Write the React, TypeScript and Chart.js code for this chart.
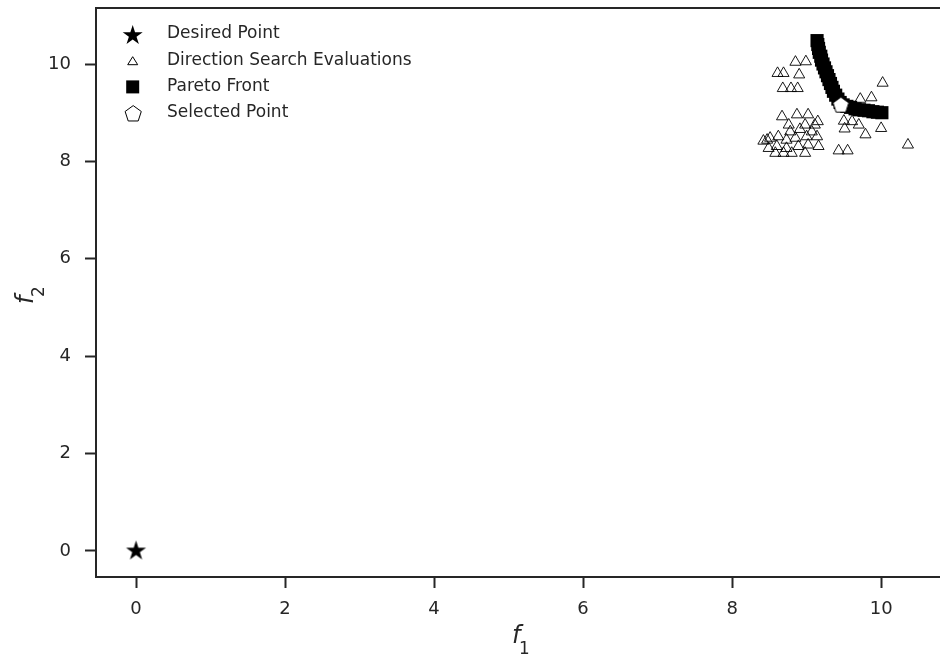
import React, { useEffect, useRef } from 'react';
import { Chart, registerables } from 'chart.js';

Chart.register(...registerables);

const xTickValues = [0, 2, 4, 6, 8, 10];
const yTickValues = [0, 2, 4, 6, 8, 10];

const legendLabels = ['Desired Point', 'Direction Search Evaluations', 'Pareto Front', 'Selected Point'];

const desiredX = [0];
const desiredY = [0];

const directionX = [
  8.85, 8.99, 8.61, 8.69, 8.90, 8.68, 8.79, 8.88,
  10.02, 9.72, 9.87, 9.50, 9.61, 9.70, 9.51, 10.00, 9.79, 10.36, 9.43, 9.55,
  8.67, 8.87, 9.02, 8.76, 8.98, 9.11, 8.51, 8.62, 8.73, 8.85, 9.00, 9.14,
  8.49, 8.60, 8.73, 8.89, 9.02, 9.16, 8.58, 8.69, 8.80, 8.98,
  8.47, 9.15, 8.78, 8.91, 9.07, 8.42,
];
const directionY = [
  10.04, 10.05, 9.81, 9.81, 9.78, 9.50, 9.50, 9.50,
  9.61, 9.28, 9.31, 8.83, 8.82, 8.75, 8.67, 8.68, 8.55, 8.34, 8.22, 8.22,
  8.92, 8.96, 8.96, 8.75, 8.75, 8.75, 8.48, 8.51, 8.44, 8.48, 8.51, 8.51,
  8.27, 8.31, 8.27, 8.31, 8.34, 8.31, 8.17, 8.17, 8.17, 8.17,
  8.44, 8.82, 8.61, 8.66, 8.61, 8.42,
];

const paretoX = [
  9.14, 9.15, 9.16, 9.17, 9.19, 9.20, 9.22, 9.24, 9.26, 9.28, 9.30, 9.32, 9.34,
  9.36, 9.39, 9.42, 9.45, 9.49, 9.54, 9.59, 9.65, 9.71, 9.77, 9.83, 9.89, 9.95, 10.01,
];
const paretoY = [
  10.48, 10.40, 10.32, 10.24, 10.16, 10.08, 10.00, 9.92, 9.84, 9.76, 9.68, 9.60, 9.52,
  9.44, 9.36, 9.28, 9.21, 9.16, 9.13, 9.11, 9.08, 9.06, 9.05, 9.04, 9.02, 9.01, 9.00,
];

const selectedX = [9.46];
const selectedY = [9.15];

const INK = '#262626';

function starPath(ctx: CanvasRenderingContext2D, cx: number, cy: number, R: number) {
  const r = R * 0.382;
  ctx.beginPath();
  for (let i = 0; i < 10; i++) {
    const rad = (-90 + i * 36) * Math.PI / 180;
    const rr = i % 2 === 0 ? R : r;
    const px = cx + rr * Math.cos(rad);
    const py = cy + rr * Math.sin(rad);
    if (i === 0) ctx.moveTo(px, py); else ctx.lineTo(px, py);
  }
  ctx.closePath();
}

function pentagonPath(ctx: CanvasRenderingContext2D, cx: number, cy: number, R: number) {
  ctx.beginPath();
  for (let i = 0; i < 5; i++) {
    const rad = (-90 + i * 72) * Math.PI / 180;
    const px = cx + R * Math.cos(rad);
    const py = cy + R * Math.sin(rad);
    if (i === 0) ctx.moveTo(px, py); else ctx.lineTo(px, py);
  }
  ctx.closePath();
}

function makeStar(R: number) {
  const c = document.createElement('canvas');
  const s = Math.ceil(2 * R + 4);
  c.width = s; c.height = s;
  const ctx = c.getContext('2d')!;
  starPath(ctx, s / 2, s / 2, R);
  ctx.fillStyle = '#000';
  ctx.fill();
  return c;
}

function makePentagon(R: number) {
  const c = document.createElement('canvas');
  const s = Math.ceil(2 * R + 4);
  c.width = s; c.height = s;
  const ctx = c.getContext('2d')!;
  pentagonPath(ctx, s / 2, s / 2, R);
  ctx.fillStyle = '#fff';
  ctx.fill();
  ctx.lineWidth = 1;
  ctx.strokeStyle = '#000';
  ctx.stroke();
  return c;
}

const overlayPlugin = {
  id: 'overlay',
  afterDraw(chart: any) {
    const ctx: CanvasRenderingContext2D = chart.ctx;
    const ca = chart.chartArea;
    ctx.save();
    // top spine
    ctx.strokeStyle = INK;
    ctx.lineWidth = 2;
    ctx.beginPath();
    ctx.moveTo(ca.left - 1, ca.top);
    ctx.lineTo(ca.right, ca.top);
    ctx.stroke();

    // legend
    const mx = 132.7;
    const tx = 167;
    const y0 = 34.5;
    const dy = 26.2;
    starPath(ctx, mx, y0 + 1, 10.5);
    ctx.fillStyle = '#000';
    ctx.fill();
    const ty = y0 + dy;
    ctx.beginPath();
    ctx.moveTo(mx, ty - 4);
    ctx.lineTo(mx - 5, ty + 4);
    ctx.lineTo(mx + 5, ty + 4);
    ctx.closePath();
    ctx.lineWidth = 1;
    ctx.strokeStyle = '#000';
    ctx.stroke();
    const sy = y0 + 2 * dy;
    ctx.fillStyle = '#000';
    ctx.fillRect(mx - 6.5, sy - 6.5, 13, 13);
    const py = y0 + 3 * dy;
    pentagonPath(ctx, mx + 0.5, py + 1, 8.5);
    ctx.fillStyle = '#fff';
    ctx.fill();
    ctx.strokeStyle = '#000';
    ctx.lineWidth = 1;
    ctx.stroke();

    ctx.fillStyle = INK;
    ctx.font = '17px "DejaVu Sans"';
    ctx.textAlign = 'left';
    ctx.textBaseline = 'middle';
    legendLabels.forEach((t, i) => {
      ctx.fillText(t, tx, y0 - 0.5 + i * dy);
    });

    // x axis title f_1
    const mainFont = 'italic 24px "DejaVu Sans"';
    const subFont = '16.8px "DejaVu Sans"';
    ctx.textBaseline = 'alphabetic';
    ctx.font = mainFont;
    const fw = ctx.measureText('f').width;
    const startX = 512;
    ctx.fillText('f', startX, 643);
    ctx.font = subFont;
    ctx.fillText('1', startX + fw - 1.5, 654);

    // y axis title f_2
    ctx.save();
    ctx.translate(0, 304);
    ctx.rotate(-Math.PI / 2);
    ctx.font = mainFont;
    ctx.fillText('f', 0, 33);
    ctx.font = subFont;
    ctx.fillText('2', fw - 1.5, 44);
    ctx.restore();

    ctx.restore();
  },
};

const noPad = (scale: any) => {
  scale.paddingTop = 0;
  scale.paddingBottom = 0;
  scale.paddingLeft = 0;
  scale.paddingRight = 0;
};

export default function App() {
  const ref = useRef<HTMLCanvasElement | null>(null);

  useEffect(() => {
    document.body.style.margin = '0';
    const canvas = ref.current!;
    const star = makeStar(10.5);
    const pent = makePentagon(8.3);

    const toPts = (xs: number[], ys: number[]) => xs.map((x, i) => ({ x, y: ys[i] }));

    const chart = new Chart(canvas, {
      type: 'scatter',
      data: {
        datasets: [
          {
            label: legendLabels[0],
            data: toPts(desiredX, desiredY),
            pointStyle: star as any,
            pointRadius: 10,
            backgroundColor: '#000',
            borderColor: '#000',
            order: 3,
          },
          {
            label: legendLabels[1],
            data: toPts(directionX, directionY),
            pointStyle: 'triangle',
            pointRadius: 6.4,
            backgroundColor: 'rgba(255,255,255,0)',
            borderColor: '#000',
            borderWidth: 0.9,
            order: 2,
          },
          {
            label: legendLabels[2],
            data: toPts(paretoX, paretoY),
            pointStyle: 'rect',
            pointRadius: 9.3,
            backgroundColor: '#000',
            borderColor: '#000',
            borderWidth: 0,
            order: 1,
          },
          {
            label: legendLabels[3],
            data: toPts(selectedX, selectedY),
            pointStyle: pent as any,
            pointRadius: 9,
            backgroundColor: '#fff',
            borderColor: '#000',
            order: 0,
          },
        ],
      },
      options: {
        animation: false,
        responsive: false,
        devicePixelRatio: 1,
        layout: { autoPadding: false, padding: { top: 8, right: 0, left: 0, bottom: 0 } },
        plugins: {
          legend: { display: false },
          tooltip: { enabled: false },
        },
        elements: { point: { hoverRadius: 0 } },
        scales: {
          x: {
            type: 'linear',
            min: -0.537,
            max: 10.79,
            afterBuildTicks: (scale: any) => {
              scale.ticks = xTickValues.map((v) => ({ value: v }));
            },
            afterFit: (scale: any) => {
              scale.height = 86;
              noPad(scale);
            },
            grid: {
              display: true,
              drawOnChartArea: false,
              drawTicks: true,
              tickLength: 11,
              tickWidth: 2,
              tickColor: INK,
            },
            border: { display: true, color: INK, width: 2 },
            ticks: {
              padding: 11,
              color: INK,
              font: { family: 'DejaVu Sans', size: 18 },
              maxRotation: 0,
              callback: (v: any) => String(v),
            },
          },
          y: {
            type: 'linear',
            min: -0.534,
            max: 11.15,
            afterBuildTicks: (scale: any) => {
              scale.ticks = yTickValues.map((v) => ({ value: v }));
            },
            afterFit: (scale: any) => {
              scale.width = 96;
              noPad(scale);
            },
            grid: {
              display: true,
              drawOnChartArea: false,
              drawTicks: true,
              tickLength: 11,
              tickWidth: 2,
              tickColor: INK,
            },
            border: { display: true, color: INK, width: 2 },
            ticks: {
              padding: 14,
              color: INK,
              font: { family: 'DejaVu Sans', size: 18 },
              callback: (v: any) => String(v),
            },
          },
        },
      },
      plugins: [overlayPlugin],
    });

    return () => chart.destroy();
  }, []);

  return (
    <div style={{ position: 'absolute', left: 0, top: 0, width: 940, height: 663 }}>
      <canvas ref={ref} width={940} height={663} style={{ display: 'block' }} />
    </div>
  );
}
